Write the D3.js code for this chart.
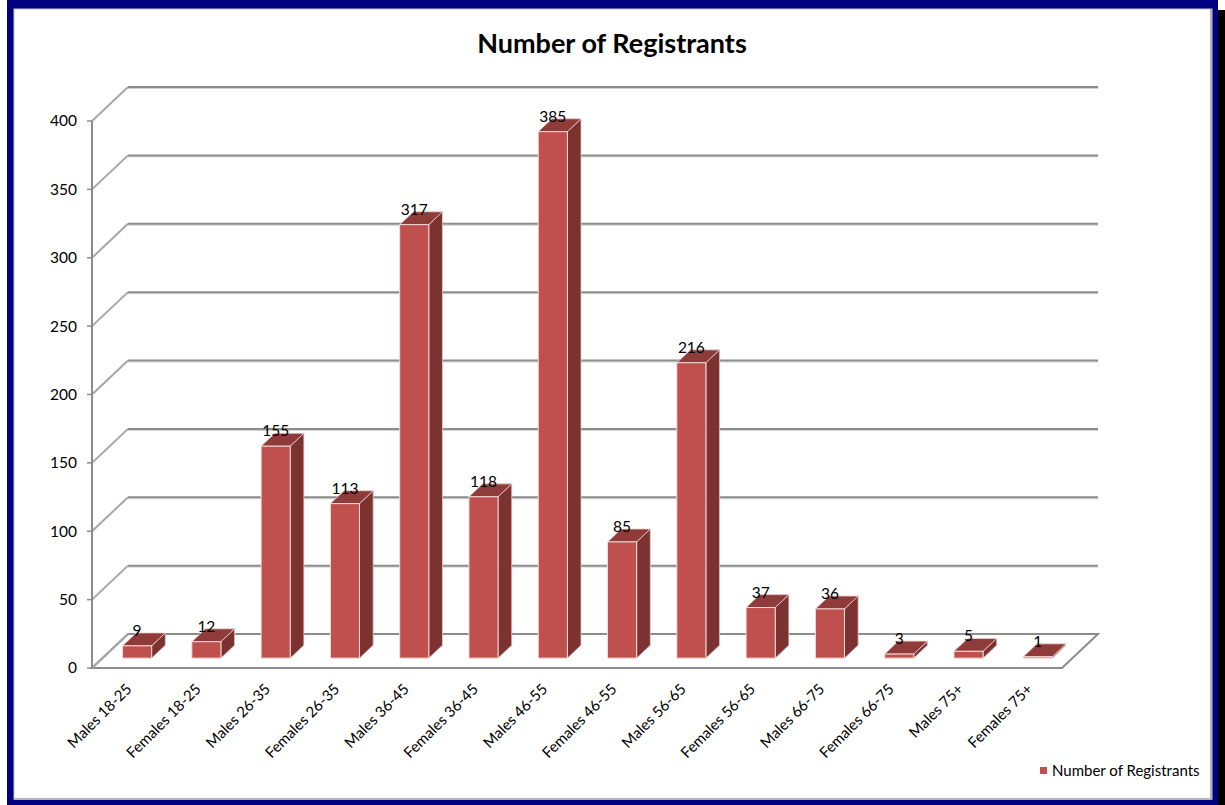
<!DOCTYPE html>
<html>
<head>
<meta charset="utf-8">
<script src="https://cdn.jsdelivr.net/npm/d3@7"></script>
<style>
    body { margin: 0; background: #ffffff; }
    svg { display: block; font-family: Lato, "Open Sans", sans-serif; }
</style>
</head>
<body>
<div id="registrants-chart"></div>
<script>
// data
const categories = ["Males 18-25", "Females 18-25", "Males 26-35", "Females 26-35",
    "Males 36-45", "Females 36-45", "Males 46-55", "Females 46-55", "Males 56-65",
    "Females 56-65", "Males 66-75", "Females 66-75", "Males 75+", "Females 75+"];
const registrants = [9, 12, 155, 113, 317, 118, 385, 85, 216, 37, 36, 3, 5, 1];
const yTicks = [0, 50, 100, 150, 200, 250, 300, 350, 400];
const seriesName = "Number of Registrants";
const chartTitle = "Number of Registrants";

render();

function render() {
    const divID = d3.select('#registrants-chart');
    bar_chart_3d(divID, {
        width: 1225,
        height: 805,
        front: { left: 92, right: 1062, bottom: 668, top: 121 },
        depth: { dx: 36, dy: -34 }
    });
}

function bar_chart_3d(selection, props) {
    const { width, height, front, depth } = props;

    const svg = selection.append('svg')
        .attr('width', width)
        .attr('height', height);

    // window frame: navy border, black drop shadow on the right
    svg.append('rect')
        .attr('x', 1218).attr('y', 10)
        .attr('width', 7).attr('height', height - 10)
        .attr('fill', '#000000');
    svg.append('rect')
        .attr('x', 7).attr('y', 0)
        .attr('width', 1211).attr('height', height)
        .attr('fill', '#000080');
    svg.append('rect')
        .attr('x', 14).attr('y', 9)
        .attr('width', 1198).attr('height', 790)
        .attr('fill', '#ffffff')
        .attr('stroke', '#c8c8c8')
        .attr('stroke-width', 1);
    svg.append('path')
        .attr('d', 'M1211,9V799H14')
        .attr('fill', 'none')
        .attr('stroke', '#b4b4b4')
        .attr('stroke-width', 2);

    // scales
    const x = d3.scaleBand()
        .domain(categories)
        .range([front.left, front.right])
        .paddingInner(0.58)
        .paddingOuter(0.29);

    const y = d3.scaleLinear()
        .domain([0, 400])
        .range([front.bottom, front.top]);

    const dx = depth.dx, dy = depth.dy;
    const f0 = 0.29, f1 = 0.67;   // bar front / back as fraction of floor depth

    // title
    svg.append('text')
        .attr('x', 612)
        .attr('y', 53)
        .attr('text-anchor', 'middle')
        .style('font-size', '27px')
        .style('font-weight', 700)
        .style('fill', '#000000')
        .text(chartTitle);

    const grid = svg.append('g').attr('class', 'grid');

    // floor outline
    const floorPts = [
        [front.left, front.bottom], [front.right, front.bottom],
        [front.right + dx, front.bottom + dy], [front.left + dx, front.bottom + dy]
    ];
    grid.append('path')
        .attr('d', 'M' + floorPts.join('L') + 'Z')
        .attr('fill', '#ffffff')
        .attr('stroke', '#8c8c8c')
        .attr('stroke-width', 2);

    // back wall gridlines (light shadow under each line)
    grid.selectAll('.grid-shadow')
        .data(yTicks.slice(1))
        .join('line')
        .attr('class', 'grid-shadow')
        .attr('x1', front.left + dx)
        .attr('x2', front.right + dx)
        .attr('y1', d => y(d) + dy + 1.5)
        .attr('y2', d => y(d) + dy + 1.5)
        .attr('stroke', '#d0d0d0')
        .attr('stroke-width', 1);

    grid.selectAll('.grid-line')
        .data(yTicks.slice(1))
        .join('line')
        .attr('class', 'grid-line')
        .attr('x1', front.left + dx)
        .attr('x2', front.right + dx)
        .attr('y1', d => y(d) + dy)
        .attr('y2', d => y(d) + dy)
        .attr('stroke', '#8c8c8c')
        .attr('stroke-width', 2);

    // side wall diagonals
    grid.selectAll('.wall-line')
        .data(yTicks)
        .join('line')
        .attr('class', 'wall-line')
        .attr('x1', front.left)
        .attr('y1', d => y(d))
        .attr('x2', front.left + dx)
        .attr('y2', d => y(d) + dy)
        .attr('stroke', '#a6a6a6')
        .attr('stroke-width', 2);

    // y axis
    const yAxis = svg.append('g').attr('class', 'y-axis');
    yAxis.append('line')
        .attr('x1', front.left).attr('x2', front.left)
        .attr('y1', y(400)).attr('y2', y(0))
        .attr('stroke', '#8c8c8c')
        .attr('stroke-width', 2);
    yAxis.selectAll('.tick-mark')
        .data(yTicks)
        .join('line')
        .attr('class', 'tick-mark')
        .attr('x1', front.left - 5).attr('x2', front.left)
        .attr('y1', d => y(d)).attr('y2', d => y(d))
        .attr('stroke', '#8c8c8c')
        .attr('stroke-width', 1.5);
    yAxis.selectAll('.tick-label')
        .data(yTicks)
        .join('text')
        .attr('class', 'tick-label')
        .attr('x', front.left - 15)
        .attr('y', d => y(d))
        .attr('dy', '0.35em')
        .attr('text-anchor', 'end')
        .style('font-size', '15.5px')
        .style('fill', '#000000')
        .text(d => d);

    // bars: front, top and side faces
    const ddx = dx * (f1 - f0), ddy = dy * (f1 - f0);
    const bw = x.bandwidth();
    const data = categories.map((c, i) => ({ cat: c, value: registrants[i] }));

    const bars = svg.selectAll('.bar')
        .data(data)
        .join('g')
        .attr('class', 'bar');

    function geom(d) {
        const xl = x(d.cat) + dx * f0, xr = xl + bw;
        const yb = y(0) + dy * f0, yt = y(d.value) + dy * f0;
        return { xl, xr, yb, yt };
    }

    bars.append('path')
        .attr('d', d => {
            const g = geom(d);
            return `M${g.xr},${g.yt}L${g.xr + ddx},${g.yt + ddy}L${g.xr + ddx},${g.yb + ddy}L${g.xr},${g.yb}Z`;
        })
        .attr('fill', '#7b3230')
        .attr('stroke', '#e6c9c8')
        .attr('stroke-width', 0.8);

    bars.append('path')
        .attr('d', d => {
            const g = geom(d);
            return `M${g.xl},${g.yt}L${g.xr},${g.yt}L${g.xr + ddx},${g.yt + ddy}L${g.xl + ddx},${g.yt + ddy}Z`;
        })
        .attr('fill', '#8f3b39')
        .attr('stroke', '#ecd3d2')
        .attr('stroke-width', 0.8);

    bars.append('rect')
        .attr('x', d => geom(d).xl)
        .attr('y', d => geom(d).yt)
        .attr('width', bw)
        .attr('height', d => geom(d).yb - geom(d).yt)
        .attr('fill', '#c0504d')
        .attr('stroke', '#f2dcdb')
        .attr('stroke-width', 1);

    // value labels
    svg.selectAll('.value-label')
        .data(data)
        .join('text')
        .attr('class', 'value-label')
        .attr('x', d => geom(d).xl + bw / 2)
        .attr('y', d => geom(d).yt + ddy + 3)
        .attr('text-anchor', 'middle')
        .style('font-size', '15.5px')
        .style('fill', '#000000')
        .text(d => d.value);

    // category labels, rotated
    svg.selectAll('.x-label')
        .data(categories)
        .join('text')
        .attr('class', 'x-label')
        .attr('text-anchor', 'end')
        .attr('transform', d => `translate(${x(d) + bw / 2 + 6},${front.bottom + 22}) rotate(-45)`)
        .style('font-size', '15px')
        .style('fill', '#000000')
        .text(d => d);

    // legend
    const legend = svg.append('g').attr('class', 'legend');
    legend.append('rect')
        .attr('x', 1040).attr('y', 767)
        .attr('width', 7).attr('height', 7)
        .attr('fill', '#c0504d');
    legend.append('text')
        .attr('x', 1052)
        .attr('y', 776)
        .style('font-size', '15px')
        .style('fill', '#000000')
        .text(seriesName);
}
</script>
</body>
</html>
